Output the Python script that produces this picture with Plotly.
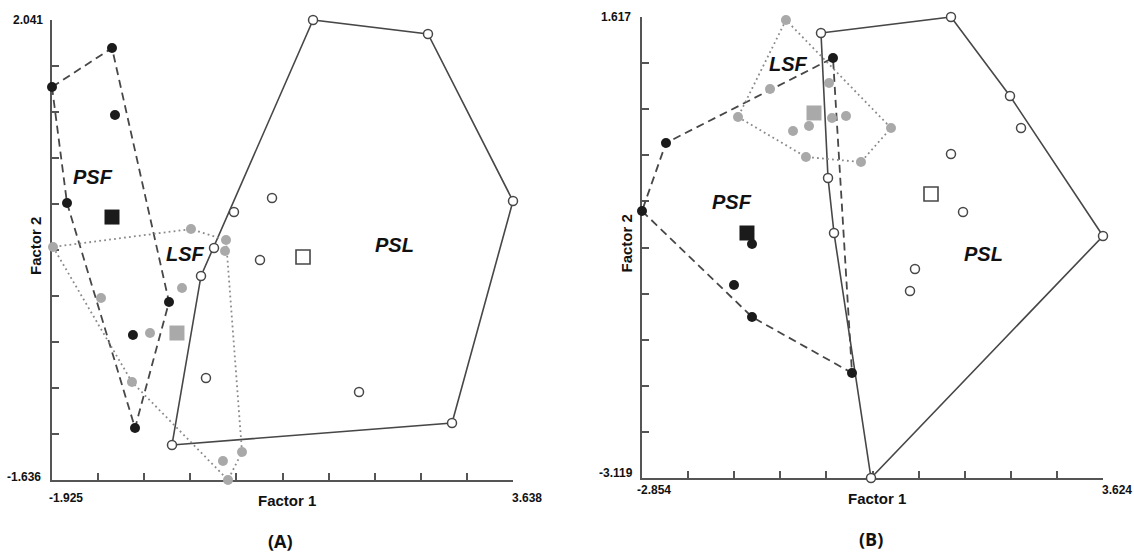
import numpy as np
import plotly.graph_objects as go

# ---------------- data ----------------
# Panel (A)
A_range_x = [-1.925, 3.638]
A_range_y = [-1.636, 2.041]
A_xlabels = ["-1.925", "3.638"]
A_ylabels = ["2.041", "-1.636"]

A_PSF_x = [-1.201, -1.925, -1.165, -1.744, -0.513, -0.948, -0.923]
A_PSF_y = [1.817, 1.505, 1.282, 0.578, -0.213, -0.477, -1.220]
A_PSF_c = [-1.201, 0.466]

A_LSF_x = [-0.248, -1.913, 0.175, 0.163, -0.356, -1.334, -0.742, -0.960, 0.368, 0.138, 0.199]
A_LSF_y = [0.370, 0.227, 0.282, 0.195, -0.101, -0.181, -0.461, -0.853, -1.412, -1.484, -1.636]
A_LSF_c = [-0.417, -0.461]

A_PSL_x = [1.225, 2.612, 3.638, 2.902, -0.477, -0.127, 0.030, 0.271, 0.730, 0.585, -0.067, 1.780]
A_PSL_y = [2.041, 1.929, 0.594, -1.180, -1.356, -0.005, 0.219, 0.506, 0.618, 0.123, -0.821, -0.933]
A_PSL_c = [1.104, 0.147]

A_group_labels = {"PSF": [-1.430, 0.786], "LSF": [-0.320, 0.171], "PSL": [2.214, 0.243]}

# Panel (B)
B_range_x = [-2.854, 3.624]
B_range_y = [-3.119, 1.617]
B_xlabels = ["-2.854", "3.624"]
B_ylabels = ["1.617", "-3.119"]

B_PSF_x = [-0.170, -2.517, -2.854, -1.308, -1.561, -1.308, 0.097]
B_PSF_y = [1.196, 0.323, -0.376, -0.715, -1.136, -1.465, -2.040]
B_PSF_c = [-1.379, -0.602]

B_LSF_x = [-0.831, -1.055, -1.505, -0.226, -0.507, -0.732, -0.184, 0.013, -0.550, 0.223, 0.645]
B_LSF_y = [1.586, 0.877, 0.590, 0.939, 0.497, 0.446, 0.579, 0.600, 0.179, 0.127, 0.477]
B_LSF_c = [-0.437, 0.631]

B_PSL_x = [-0.339, 1.488, 2.317, 3.624, 0.364, -0.156, -0.240, 2.472, 1.488, 1.657, 0.982, 0.912]
B_PSL_y = [1.453, 1.617, 0.805, -0.633, -3.119, -0.602, -0.037, 0.477, 0.210, -0.386, -0.972, -1.198]
B_PSL_c = [1.207, -0.201]

B_group_labels = {"PSF": [-1.589, -0.284], "LSF": [-0.802, 1.134], "PSL": [1.938, -0.818]}

axis_title_x = "Factor 1"
axis_title_y = "Factor 2"
panel_names = ["(A)", "(B)"]


# ---------------- helpers ----------------
def convex_hull(xs, ys):
    pts = sorted(set(zip(xs, ys)))

    def cross(o, a, b):
        return (a[0] - o[0]) * (b[1] - o[1]) - (a[1] - o[1]) * (b[0] - o[0])

    lower = []
    for p in pts:
        while len(lower) >= 2 and cross(lower[-2], lower[-1], p) <= 0:
            lower.pop()
        lower.append(p)
    upper = []
    for p in reversed(pts):
        while len(upper) >= 2 and cross(upper[-2], upper[-1], p) <= 0:
            upper.pop()
        upper.append(p)
    h = lower[:-1] + upper[:-1]
    h.append(h[0])
    return [p[0] for p in h], [p[1] for p in h]


BLACK = "#1b1b1b"
GRAY = "#a9a9a9"
LINE = "#474747"
DOT = "#8a8a8a"
AXIS = "#555555"

fig = go.Figure()


def add_panel(xa, ya, psf, lsf, psl):
    (px, py, pc), (lx, ly, lc), (sx, sy, sc) = psf, lsf, psl
    # hulls
    hx, hy = convex_hull(sx, sy)
    fig.add_trace(go.Scatter(x=hx, y=hy, mode="lines", xaxis=xa, yaxis=ya,
                             line=dict(color=LINE, width=1.6), hoverinfo="skip"))
    hx, hy = convex_hull(px, py)
    fig.add_trace(go.Scatter(x=hx, y=hy, mode="lines", xaxis=xa, yaxis=ya,
                             line=dict(color=LINE, width=1.8, dash="8px,5px"), hoverinfo="skip"))
    hx, hy = convex_hull(lx, ly)
    fig.add_trace(go.Scatter(x=hx, y=hy, mode="lines", xaxis=xa, yaxis=ya,
                             line=dict(color=DOT, width=1.8, dash="1.8px,3.2px"), hoverinfo="skip"))
    # points
    fig.add_trace(go.Scatter(x=lx, y=ly, mode="markers", xaxis=xa, yaxis=ya, cliponaxis=False,
                             marker=dict(size=10, color=GRAY, line=dict(width=0))))
    fig.add_trace(go.Scatter(x=px, y=py, mode="markers", xaxis=xa, yaxis=ya, cliponaxis=False,
                             marker=dict(size=10, color=BLACK, line=dict(width=0))))
    fig.add_trace(go.Scatter(x=sx, y=sy, mode="markers", xaxis=xa, yaxis=ya, cliponaxis=False,
                             marker=dict(size=9, color="white", line=dict(width=1.5, color=LINE))))
    # centroids
    fig.add_trace(go.Scatter(x=[pc[0]], y=[pc[1]], mode="markers", xaxis=xa, yaxis=ya, cliponaxis=False,
                             marker=dict(symbol="square", size=15, color=BLACK, line=dict(width=0))))
    fig.add_trace(go.Scatter(x=[lc[0]], y=[lc[1]], mode="markers", xaxis=xa, yaxis=ya, cliponaxis=False,
                             marker=dict(symbol="square", size=15, color=GRAY, line=dict(width=0))))
    fig.add_trace(go.Scatter(x=[sc[0]], y=[sc[1]], mode="markers", xaxis=xa, yaxis=ya, cliponaxis=False,
                             marker=dict(symbol="square", size=14, color="white", line=dict(width=1.6, color=LINE))))


add_panel("x", "y", (A_PSF_x, A_PSF_y, A_PSF_c), (A_LSF_x, A_LSF_y, A_LSF_c), (A_PSL_x, A_PSL_y, A_PSL_c))
add_panel("x2", "y2", (B_PSF_x, B_PSF_y, B_PSF_c), (B_LSF_x, B_LSF_y, B_LSF_c), (B_PSL_x, B_PSL_y, B_PSL_c))


def axis(rng, domain):
    return dict(range=rng, domain=domain, showline=True, linecolor=AXIS, linewidth=2,
                ticks="inside", ticklen=7, tickwidth=1.5, tickcolor=AXIS,
                tickmode="array", tickvals=list(np.linspace(rng[0], rng[1], 11)),
                showticklabels=False, showgrid=False, zeroline=False, layer="below traces")


W, H = 1134, 554
fig.update_layout(
    width=W, height=H, margin=dict(l=0, r=0, t=0, b=0),
    paper_bgcolor="white", plot_bgcolor="white", showlegend=False,
    xaxis=axis(A_range_x, [52 / W, 513 / W]),
    yaxis=axis(A_range_y, [1 - 480 / H, 1 - 20 / H]),
    xaxis2=axis(B_range_x, [642 / W, 1103 / W]),
    yaxis2=axis(B_range_y, [1 - 478 / H, 1 - 17 / H]),
)
fig.layout.yaxis.anchor = "x"
fig.layout.xaxis.anchor = "y"
fig.layout.yaxis2.anchor = "x2"
fig.layout.xaxis2.anchor = "y2"

tick_font = dict(family="Liberation Sans, Arial", size=12, color="#111", weight="bold")
title_font = dict(family="Liberation Sans, Arial", size=15, color="#111")
group_font = dict(family="Liberation Sans, Arial", size=20, color="#111")
panel_font = dict(family="Open Sans, Liberation Sans", size=18, color="#111")

ann = []
for (xa, ya, xl, yl, gl, name, xsh, ysh, xt_y, xt_sh) in [
    ("x", "y", A_xlabels, A_ylabels, A_group_labels, panel_names[0], (-5, -3), (-7, -9, 3), -18, 4),
    ("x2", "y2", B_xlabels, B_ylabels, B_group_labels, panel_names[1], (-7, -3), (-9, -7, 5), -12, 4),
]:
    xd, yd = xa + " domain", ya + " domain"
    # endpoint tick labels
    ann.append(dict(x=0, y=0, xref=xd, yref=yd, text=xl[0], showarrow=False, xanchor="left",
                    yanchor="middle", xshift=xsh[0], yshift=xt_y, font=tick_font))
    ann.append(dict(x=1, y=0, xref=xd, yref=yd, text=xl[1], showarrow=False, xanchor="left",
                    yanchor="middle", xshift=xsh[1], yshift=xt_y, font=tick_font))
    ann.append(dict(x=0, y=1, xref=xd, yref=yd, text=yl[0], showarrow=False, xanchor="right",
                    yanchor="middle", xshift=ysh[0], font=tick_font))
    ann.append(dict(x=0, y=0, xref=xd, yref=yd, text=yl[1], showarrow=False, xanchor="right",
                    yanchor="middle", xshift=ysh[1], yshift=ysh[2], font=tick_font))
    # axis titles
    ann.append(dict(x=0.5, y=0, xref=xd, yref=yd, text="<b>%s</b>" % axis_title_x, showarrow=False,
                    xanchor="center", yanchor="middle", xshift=xt_sh, yshift=-20, font=title_font))
    ann.append(dict(x=0, y=0.5, xref=xd, yref=yd, text="<b>%s</b>" % axis_title_y, showarrow=False,
                    xanchor="center", yanchor="middle", xshift=-16, yshift=4, textangle=-90,
                    font=title_font))
    # panel name
    ann.append(dict(x=0.5, y=0, xref=xd, yref=yd, text="<b>%s</b>" % name, showarrow=False,
                    xanchor="center", yanchor="middle", xshift=-2, yshift=-61, font=panel_font))
    # group labels
    for k, (gx, gy) in gl.items():
        ann.append(dict(x=gx, y=gy, xref=xa, yref=ya, text="<b><i>%s</i></b>" % k, showarrow=False,
                        xanchor="center", yanchor="middle", font=group_font))

fig.update_layout(annotations=ann)
fig.write_html("out.html", config={"displayModeBar": False},
               post_script="document.body.style.margin='0';document.body.style.overflow='hidden';")
